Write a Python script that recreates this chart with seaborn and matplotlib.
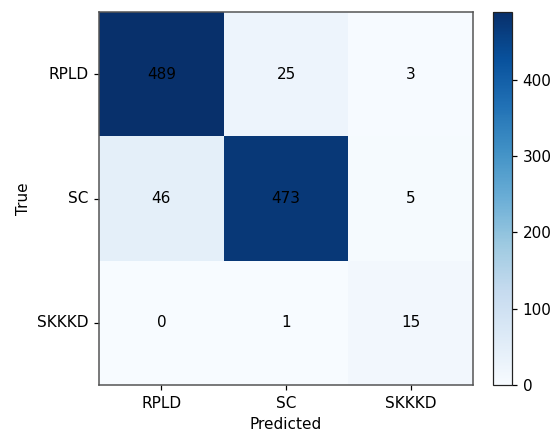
import matplotlib
matplotlib.use("Agg")
import matplotlib.pyplot as plt
import seaborn as sns
import numpy as np
import pandas as pd

labels = ["RPLD", "SC", "SKKKD"]
row_rpld = [489, 25, 3]
row_sc = [46, 473, 5]
row_skkkd = [0, 1, 15]

cm = pd.DataFrame([row_rpld, row_sc, row_skkkd], index=labels, columns=labels)

W, H = 555, 432
DPI = 110
fig = plt.figure(figsize=(W / DPI, H / DPI), dpi=DPI)
ax = fig.add_axes([99 / W, 1 - 385 / H, (473 - 99) / W, (385 - 12) / H])
cax = fig.add_axes([493 / W, 1 - 385 / H, (512 - 493) / W, (385 - 12) / H])

sns.heatmap(cm, annot=True, fmt="d", cmap="Blues", ax=ax, cbar_ax=cax,
            annot_kws={"color": "black", "fontsize": 10}, linewidths=0)
for t in ax.texts:
    t.set_color("black")
for s in ax.spines.values():
    s.set_visible(True)
    s.set_color("#555555")
    s.set_linewidth(1.0)
cb = ax.collections[0].colorbar
cb.outline.set_visible(True)
cb.outline.set_edgecolor("#222222")
cb.outline.set_linewidth(0.8)
cb.set_ticks([0, 100, 200, 300, 400])
cax.tick_params(labelsize=10)

ax.set_xlabel("Predicted", fontsize=10)
ax.set_ylabel("True", fontsize=10)
ax.tick_params(axis="both", labelsize=10, length=3.5)
ax.set_yticklabels(labels, rotation=0)
ax.set_xticklabels(labels, rotation=0)

fig.savefig("out.png", dpi=DPI)
